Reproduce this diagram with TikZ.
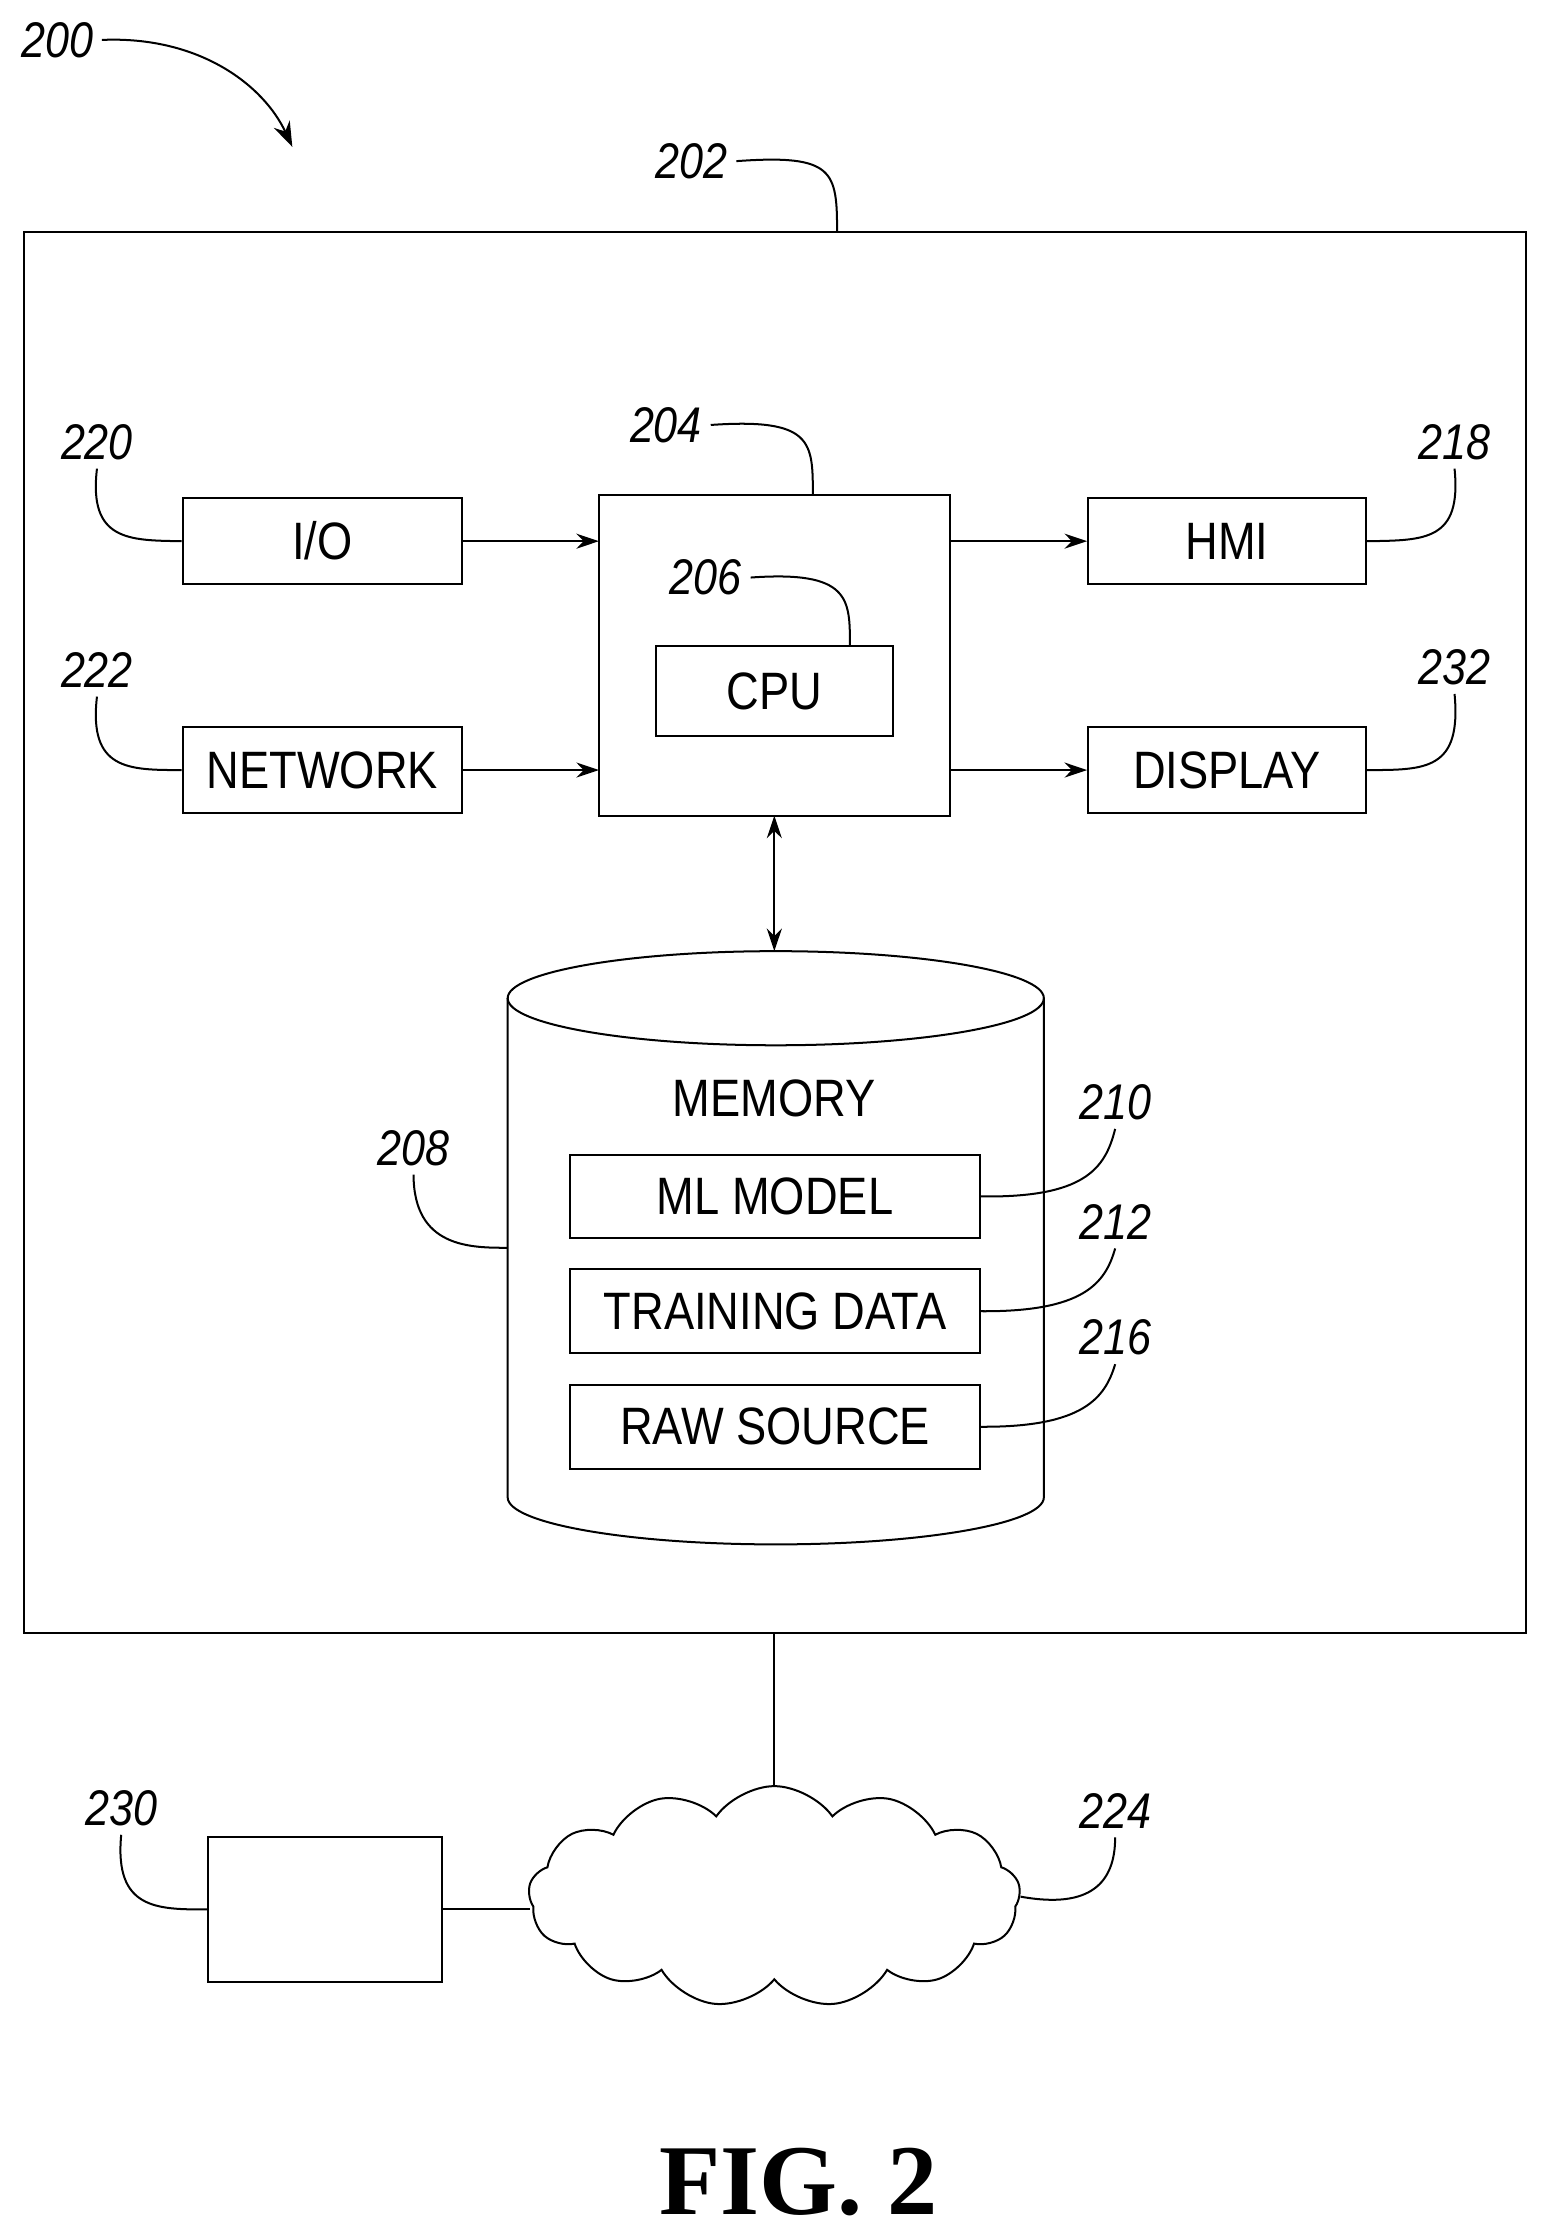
\documentclass[tikz,border=0pt]{standalone}
\usepackage{fontspec}
\setmainfont{Liberation Sans}
\newfontfamily\boxfont[FakeStretch=0.86]{Liberation Sans}
\newfontfamily\figfont{Liberation Serif}
\usetikzlibrary{shapes.symbols,arrows.meta}

\begin{document}
\begin{tikzpicture}[x=0.02cm,y=-0.02cm,
  box/.style={draw,thick,minimum height=1.2cm,font=\boxfont\fontsize{21}{21}\selectfont,inner sep=0pt},
  num/.style={font=\boxfont\fontsize{20}{20}\selectfont\itshape},
  lead/.style={thick},
  arr/.style={thick,-{Stealth[length=9pt,width=6pt]}}]
\useasboundingbox (0,0) rectangle (1085,1568);
% housing
\draw[thick] (17,163) rectangle (1070,1145);
\node[num] (n200) at (40,28) {200};
\draw[lead,-{Stealth[length=10pt,width=7pt]}] (n200.east) .. controls (140,25) and (185,60) .. (205,103);
\node[num] (n202) at (485,113) {202};
\draw[lead] (n202.east) .. controls (585,108) and (587,120) .. (587,163);
% blocks
\node[box,minimum width=3.92cm] (io) at (226,379.5) {I/O};
\node[box,minimum width=3.92cm] (net) at (226,540) {NETWORK};
\node[box,minimum width=3.9cm] (hmi) at (860.5,379.5) {HMI};
\node[box,minimum width=3.9cm] (disp) at (860.5,540) {DISPLAY};
\draw[thick] (420,347) rectangle (666,572);
\node[box,minimum width=3.32cm,minimum height=1.26cm] (cpu) at (543,484.5) {CPU};
\draw[arr] (io.east) -- (420,379.5);
\draw[arr] (net.east) -- (420,540);
\draw[arr] (666,379.5) -- (hmi.west);
\draw[arr] (666,540) -- (disp.west);
\node[num] (n204) at (467,298) {204};
\draw[lead] (n204.east) .. controls (570,293) and (570,310) .. (570,347);
\node[num] (n206) at (495,405) {206};
\draw[lead] (n206.east) .. controls (596,400) and (596,420) .. (cpu.north -| 596,0);
\node[num] (n220) at (68,310) {220};
\draw[lead] (n220.south) .. controls (62,379) and (90,379) .. (io.west);
\node[num] (n222) at (68,470) {222};
\draw[lead] (n222.south) .. controls (62,540) and (90,540) .. (net.west);
\node[num] (n218) at (1020,310) {218};
\draw[lead] (hmi.east) .. controls (1000,379) and (1025,379) .. (n218.south);
\node[num] (n232) at (1020,468) {232};
\draw[lead] (disp.east) .. controls (1000,540) and (1025,540) .. (n232.south);
% memory
\draw[thick] (356,700) -- (356,1050) arc[start angle=180,end angle=360,x radius=188,y radius=-33] -- (732,700);
\draw[thick] (544,700) ellipse[x radius=188,y radius=33];
\draw[thick,{Stealth[length=9pt,width=6pt]}-{Stealth[length=9pt,width=6pt]}] (543,572) -- (543,667);
\node[font=\boxfont\fontsize{21}{21}\selectfont] (mem) at (543,770) {MEMORY};
\node[box,minimum width=5.74cm,minimum height=1.16cm] (ml) at (543.5,839) {ML MODEL};
\node[box,minimum width=5.74cm,minimum height=1.18cm] (train) at (543.5,919.5) {TRAINING DATA};
\node[box,minimum width=5.74cm,minimum height=1.18cm] (raw) at (543.5,1000.5) {RAW SOURCE};
\node[num] (n208) at (290,805) {208};
\draw[lead] (n208.south) .. controls (290,875) and (330,875) .. (356,875);
\node[num] (n210) at (782,773) {210};
\draw[lead] (ml.east) .. controls (760,840) and (775,820) .. (n210.south);
\node[num] (n212) at (782,857) {212};
\draw[lead] (train.east) .. controls (760,920) and (775,900) .. (n212.south);
\node[num] (n216) at (782,938) {216};
\draw[lead] (raw.east) .. controls (760,1001) and (775,980) .. (n216.south);
% network cloud
\node[cloud,draw,thick,cloud puffs=13,cloud puff arc=110,aspect=2.4,minimum width=6.9cm,minimum height=3.1cm,inner sep=0pt] (cloud) at (543,1330) {};
\coordinate (cloudin) at (372,1339);
\draw[thick] (543,1145) -- (cloud.north);
\node[draw,thick,minimum width=3.28cm,minimum height=2.04cm] (dev) at (228,1339) {};
\draw[thick] (dev.east) -- (cloudin);
\node[num] (n230) at (85,1268) {230};
\draw[lead] (n230.south) .. controls (80,1339) and (110,1339) .. (dev.west);
\node[num] (n224) at (782,1270) {224};
\draw[lead] (cloud.east) .. controls (765,1339) and (782,1320) .. (n224.south);
\node[font=\figfont\bfseries\fontsize{40}{40}\selectfont] (fig) at (560,1530) {FIG. 2};
\end{tikzpicture}
\end{document}
